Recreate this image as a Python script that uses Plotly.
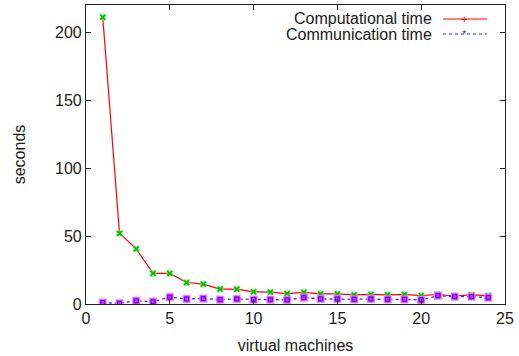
import plotly.graph_objects as go

machines = list(range(1, 25))
computational = [211, 52, 40.5, 22.5, 22.5, 15.8, 14.6, 11, 11, 8.9, 8.7, 7.6,
                 8.5, 7.4, 7.4, 6.7, 7.1, 6.7, 7.1, 6.1, 7.0, 5.9, 6.7, 6.1]
communication = [1.0, 0.5, 2.4, 1.7, 5.0, 3.7, 4.0, 3.2, 3.7, 3.2, 3.2, 3.0,
                 4.7, 3.7, 3.7, 3.4, 3.7, 3.4, 3.4, 3.0, 6.1, 5.4, 5.4, 4.7]

x_ticks = [0, 5, 10, 15, 20, 25]
y_ticks = [0, 50, 100, 150, 200]

FONT = "Liberation Sans, Arial, Helvetica, sans-serif"
TXT = "#1a1a1a"
FS = 16

fig = go.Figure()

# Computational time: red line, green point markers with halo
fig.add_trace(go.Scatter(x=machines, y=computational, mode="lines",
                         line=dict(color="#ff0000", width=1.2),
                         showlegend=False, hoverinfo="skip"))
fig.add_trace(go.Scatter(x=machines, y=computational, mode="markers",
                         marker=dict(symbol="square", size=7, color="rgba(120,255,120,0.5)",
                                     line=dict(width=0)),
                         showlegend=False, hoverinfo="skip"))
fig.add_trace(go.Scatter(x=machines, y=computational, mode="markers",
                         marker=dict(symbol="x-thin", size=5, color="#00c000",
                                     line=dict(width=1.8, color="#00c000")),
                         showlegend=False, name="Computational time"))

# Communication time: blue dotted line, magenta square markers
fig.add_trace(go.Scatter(x=machines, y=communication, mode="lines",
                         line=dict(color="#3333ff", width=1.3, dash="dot"),
                         showlegend=False, hoverinfo="skip"))
fig.add_trace(go.Scatter(x=machines, y=communication, mode="markers",
                         marker=dict(symbol="square", size=7, color="#ee22ee",
                                     line=dict(width=1.2, color="rgba(255,120,255,0.7)")),
                         showlegend=False, hoverinfo="skip"))
fig.add_trace(go.Scatter(x=machines, y=communication, mode="markers",
                         marker=dict(symbol="square-open", size=4, color="#2222ff",
                                     line=dict(width=1, color="#2222ff")),
                         showlegend=False, name="Communication time"))

axis_common = dict(showline=True, linecolor="#222222", linewidth=1.2, mirror="ticks",
                   ticks="inside", ticklen=5, tickcolor="#222222", tickwidth=1,
                   showgrid=False, zeroline=False,
                   tickfont=dict(family=FONT, size=FS, color=TXT))

fig.update_xaxes(range=[0, 25], tickvals=x_ticks, ticktext=[str(v) for v in x_ticks],
                 title=dict(text="virtual machines", font=dict(family=FONT, size=FS, color=TXT),
                            standoff=13),
                 **axis_common)
fig.update_yaxes(range=[0, 220], tickvals=y_ticks, ticktext=[str(v) for v in y_ticks],
                 title=dict(text="seconds", font=dict(family=FONT, size=FS, color=TXT),
                            standoff=25),
                 **axis_common)

# gnuplot-style legend (text, then sample)
legend_rows = [("Computational time", 19, "#ff0000", "solid", "+"),
               ("Communication time", 34, "#3333ff", "dot", "*")]
W, H = 519, 356
L, R, T, B = 86, 505, 5, 304
for text, ypx, col, dash, mk in legend_rows:
    yy = (B - ypx) / (B - T)
    fig.add_annotation(xref="paper", yref="paper", x=(434 - L) / (R - L),
                       y=yy, text=text, showarrow=False,
                       xanchor="right", yanchor="middle",
                       font=dict(family=FONT, size=FS, color=TXT))
    x0 = (443 - L) / (R - L)
    x1 = (487 - L) / (R - L)
    fig.add_shape(type="line", xref="paper", yref="paper", x0=x0, x1=x1, y0=yy, y1=yy,
                  line=dict(color=col, width=1.2, dash=dash))
    xm = (464 - L) / (R - L)
    fig.add_annotation(xref="paper", yref="paper", x=xm, y=yy, text=mk, showarrow=False,
                       xanchor="center", yanchor="middle",
                       font=dict(family=FONT, size=11, color=col))

fig.update_layout(width=W, height=H, margin=dict(l=L, r=W - R, t=T, b=H - B),
                  paper_bgcolor="white", plot_bgcolor="white",
                  font=dict(family=FONT, color=TXT), showlegend=False)

fig.write_html("out.html", config={"displayModeBar": False},
               post_script="document.body.style.margin='0';document.body.style.padding='0';")
